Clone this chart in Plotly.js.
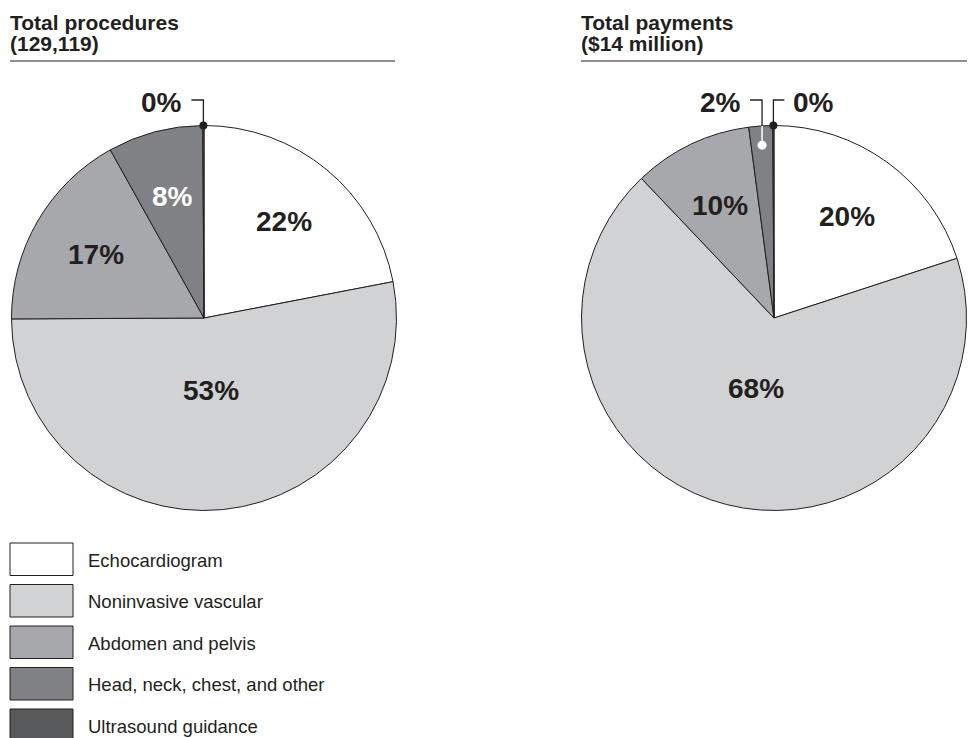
<!DOCTYPE html>
<html>
<head>
<meta charset="utf-8">
<script src="https://cdn.plot.ly/plotly-3.0.1.min.js"></script>
<style>html,body{margin:0;padding:0;background:#fff;}#chart{width:972px;height:738px;}</style>
</head>
<body>
<div id="chart"></div>
<script>
// ---- data ----
const categories = ['Echocardiogram', 'Noninvasive vascular', 'Abdomen and pelvis', 'Head, neck, chest, and other', 'Ultrasound guidance'];
const procedureShares = [22, 53, 17, 8, 0.1];   // % of total procedures
const paymentShares   = [20, 68, 10, 2, 0.1];   // % of total payments
const procedureTitle = ['Total procedures', '(129,119)'];
const paymentTitle   = ['Total payments', '($14 million)'];
const sliceColors = ['#ffffff', '#d1d2d4', '#a7a8ab', '#808184', '#58595b'];
const labelColors = ['#231f20', '#231f20', '#231f20', '#ffffff', '#ffffff'];

// ---- geometry ----
const W = 972, H = 738;
const INK = '#231f20';
const FONT = 'Liberation Sans, Arial, Helvetica, sans-serif';
const R = 192.5, CY = 318;
const pies = [
  {cx: 204, values: procedureShares, title: procedureTitle, left: 8, right: 395},
  {cx: 774, values: paymentShares,   title: paymentTitle,   left: 579, right: 967}
];
const px = x => x / W;
const py = y => 1 - y / H;
const pct = v => Math.round(v) + '%';
const INSIDE_MIN = 5;
const LABEL_SIZE = 28;

const traces = pies.map(p => ({
  type: 'pie',
  values: p.values,
  labels: categories,
  sort: false,
  direction: 'clockwise',
  rotation: 0,
  marker: {colors: sliceColors, line: {color: INK, width: 1}},
  textinfo: 'none',
  hoverinfo: 'label+percent',
  showlegend: false,
  domain: {x: [px(p.cx - R), px(p.cx + R)], y: [py(CY + R), py(CY - R)]}
}));

const shapes = [];
const annotations = [];

// titles and rules
pies.forEach(p => {
  annotations.push({xref: 'paper', yref: 'paper', x: px(p.left), y: py(22), xanchor: 'left', yanchor: 'middle',
    showarrow: false, text: '<b>' + p.title[0] + '</b>', font: {family: FONT, size: 21, color: INK}});
  annotations.push({xref: 'paper', yref: 'paper', x: px(p.left), y: py(43), xanchor: 'left', yanchor: 'middle',
    showarrow: false, text: '<b>' + p.title[1] + '</b>', font: {family: FONT, size: 21, color: INK}});
  shapes.push({type: 'line', xref: 'paper', yref: 'paper', x0: px(p.left + 2), x1: px(p.right), y0: py(61), y1: py(61),
    line: {color: INK, width: 1.2}});
});

// slice labels (inside along the bisector) and callouts for the small slices
const LEAD_Y = 100;
pies.forEach(p => {
  const total = p.values.reduce((a, b) => a + b, 0);
  let cum = 0;
  const small = [];
  p.values.forEach((v, i) => {
    const frac = v / total;
    const mid = (cum + v / 2) / total * 2 * Math.PI;
    cum += v;
    if (v < INSIDE_MIN) { small.push({i, v, mid}); return; }
    const rl = R * (frac > 0.4 ? 0.38 : 0.65);
    annotations.push({xref: 'paper', yref: 'paper',
      x: px(p.cx + rl * Math.sin(mid)), y: py(CY - rl * Math.cos(mid)),
      xanchor: 'center', yanchor: 'middle', showarrow: false,
      text: '<b>' + pct(v) + '</b>', font: {family: FONT, size: LABEL_SIZE, color: labelColors[i]}});
  });
  small.forEach(s => {
    const tiny = s.v < 0.5;
    const rr = tiny ? R : R * 0.9;
    const x = p.cx + rr * Math.sin(s.mid);
    const y = CY - rr * Math.cos(s.mid);
    const edgeY = CY - R * Math.cos(s.mid);
    const goRight = tiny && small.length > 1;
    const hx = goRight ? x + 11 : x - 12;
    shapes.push({type: 'path', xref: 'paper', yref: 'paper',
      path: `M${px(hx)},${py(LEAD_Y)} L${px(x)},${py(LEAD_Y)} L${px(x)},${py(edgeY)}`,
      line: {color: INK, width: 1.3}});
    if (!tiny) {
      shapes.push({type: 'line', xref: 'paper', yref: 'paper', x0: px(x), x1: px(x), y0: py(edgeY), y1: py(y),
        line: {color: '#ffffff', width: 1.5}});
    }
    const dotR = tiny ? 4 : 4.5;
    shapes.push({type: 'circle', xref: 'paper', yref: 'paper',
      x0: px(x - dotR), x1: px(x + dotR), y0: py(y + dotR), y1: py(y - dotR),
      fillcolor: tiny ? INK : '#ffffff', line: {width: 0, color: tiny ? INK : '#ffffff'}});
    annotations.push({xref: 'paper', yref: 'paper', x: px(goRight ? hx + 7 : hx - 7), y: py(LEAD_Y + 2.5),
      xanchor: goRight ? 'left' : 'right', yanchor: 'middle', showarrow: false,
      text: '<b>' + pct(s.v) + '</b>', font: {family: FONT, size: LABEL_SIZE, color: INK}});
  });
});

// legend
const LEG_TOP = 543, LEG_STEP = 41.5, BOX_H = 32.5;
categories.forEach((c, i) => {
  const y0 = LEG_TOP + i * LEG_STEP;
  shapes.push({type: 'rect', xref: 'paper', yref: 'paper', x0: px(10), x1: px(73), y0: py(y0 + BOX_H), y1: py(y0),
    fillcolor: sliceColors[i], line: {color: INK, width: 1}});
  annotations.push({xref: 'paper', yref: 'paper', x: px(86), y: py(y0 + BOX_H / 2 + 1), xanchor: 'left', yanchor: 'middle',
    showarrow: false, text: c, font: {family: FONT, size: 18.5, color: INK}});
});

const layout = {
  width: W, height: H,
  margin: {l: 0, r: 0, t: 0, b: 0},
  paper_bgcolor: '#ffffff',
  plot_bgcolor: '#ffffff',
  showlegend: false,
  shapes, annotations
};

Plotly.newPlot('chart', traces, layout, {displayModeBar: false, staticPlot: true});
</script>
</body>
</html>
